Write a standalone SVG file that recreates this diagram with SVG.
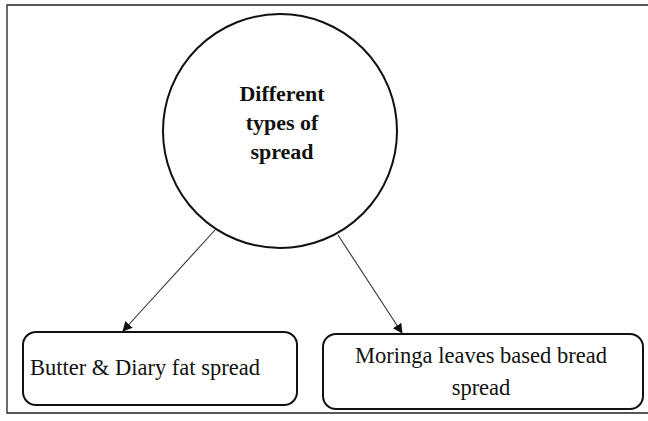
<svg xmlns="http://www.w3.org/2000/svg" width="648" height="421" viewBox="0 0 648 421">
<defs>
<style>
.frame{fill:none;stroke:#222;stroke-width:1.3}
.node{fill:#fff;stroke:#111;stroke-width:2}
.conn{fill:none;stroke:#333;stroke-width:1.1}
.t{font-family:"Liberation Serif","Times New Roman",serif;fill:#111}
.tb{font-family:"Liberation Serif","Times New Roman",serif;font-weight:bold;fill:#111}
</style>
<marker id="arrow" viewBox="0 0 10 10" refX="9" refY="5" markerWidth="10" markerHeight="10" markerUnits="userSpaceOnUse" orient="auto">
<path d="M0,0 L10,5 L0,10 Z" fill="#111"/>
</marker>
</defs>
<rect width="648" height="421" fill="#fff"/>
<polyline class="frame" points="648,5 7,5 7,413 648,413"/>
<g id="connectors">
<line class="conn" x1="215" y1="230" x2="123" y2="331" marker-end="url(#arrow)"/>
<line class="conn" x1="338" y1="235" x2="402" y2="333" marker-end="url(#arrow)"/>
</g>
<g id="center">
<circle class="node" cx="280" cy="131" r="117"/>
<text class="tb" font-size="22" text-anchor="middle" x="282" y="101">Different</text>
<text class="tb" font-size="22" text-anchor="middle" x="282" y="130">types of</text>
<text class="tb" font-size="22" text-anchor="middle" x="282" y="159">spread</text>
</g>
<g id="butter">
<rect class="node" x="23" y="332" width="274" height="73" rx="13"/>
<text class="t" font-size="22.5" x="30" y="375">Butter &amp; Diary fat spread</text>
</g>
<g id="moringa">
<rect class="node" x="323" y="334" width="320" height="75" rx="13"/>
<text class="t" font-size="22.5" text-anchor="middle" x="481" y="363">Moringa leaves based bread</text>
<text class="t" font-size="22.5" text-anchor="middle" x="481" y="395">spread</text>
</g>
</svg>
